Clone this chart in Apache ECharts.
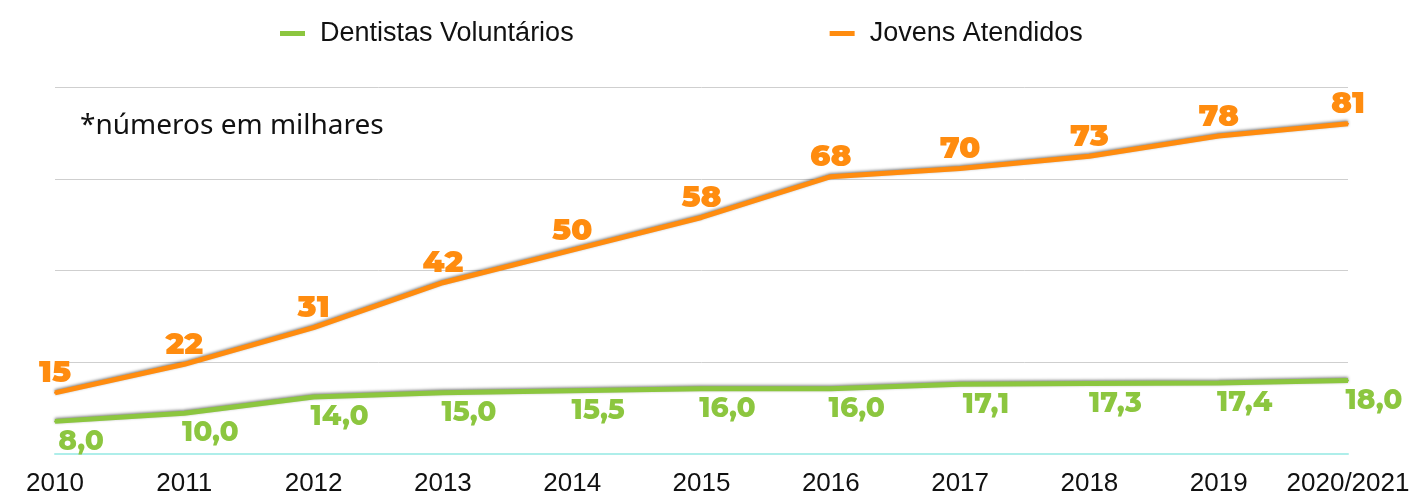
<!DOCTYPE html>
<html>
<head>
<meta charset="utf-8">
<script src="https://cdn.jsdelivr.net/npm/echarts@6/dist/echarts.min.js"></script>
<style>
  html, body { margin: 0; padding: 0; background: #fff; }
  #chart { width: 1415px; height: 497px; }
</style>
</head>
<body>
<div id="chart"></div>
<script>
(function () {

    var years = ['2010', '2011', '2012', '2013', '2014', '2015', '2016', '2017', '2018', '2019', '2020/2021'];
    var dentistas = [8.0, 10.0, 14.0, 15.0, 15.5, 16.0, 16.0, 17.1, 17.3, 17.4, 18.0];
    var jovens = [15, 22, 31, 42, 50, 58, 68, 70, 73, 78, 81];

    var green = '#8cc63f';
    var orange = '#ff8c0f';
    var labelFont = 'Montserrat, "Noto Sans", sans-serif';

    var option = {
        animation: false,
        legend: {
            top: 15,
            left: 275,
            itemGap: 256,
            itemWidth: 25,
            itemHeight: 5,
            icon: 'rect',
            textStyle: {
                fontFamily: '"Liberation Sans", Arial, sans-serif',
                fontSize: 27,
                color: '#111',
                padding: [0, 0, 0, 10]
            },
            data: ['Dentistas Voluntários', 'Jovens Atendidos']
        },
        graphic: [{
            type: 'text',
            left: 80,
            top: 112,
            style: {
                text: '*números em milhares',
                font: '28px "Noto Sans", sans-serif',
                fill: '#111'
            }
        }],
        grid: {
            left: 55,
            right: 67,
            top: 87,
            bottom: 43
        },
        xAxis: {
            type: 'category',
            data: years,
            boundaryGap: false,
            axisTick: { show: false },
            axisLine: { lineStyle: { color: '#aeeeea', width: 2 } },
            axisLabel: {
                interval: 0,
                color: '#111',
                fontSize: 26,
                fontFamily: '"Liberation Sans", Arial, sans-serif',
                margin: 17
            }
        },
        yAxis: {
            type: 'value',
            min: 0,
            max: 90,
            interval: 22.5,
            axisLabel: { show: false },
            axisLine: { show: false },
            axisTick: { show: false },
            splitLine: { lineStyle: { color: '#cfcfcf', width: 1 } }
        },
        series: [
            {
                name: 'Dentistas Voluntários',
                type: 'line',
                data: dentistas,
                color: green,
                symbol: 'circle',
                symbolSize: 2,
                showSymbol: true,
                itemStyle: { color: green },
                lineStyle: {
                    width: 5,
                    color: green,
                    shadowColor: 'rgba(0,0,0,0.5)',
                    shadowBlur: 3,
                    shadowOffsetY: -1
                },
                label: {
                    show: true,
                    position: 'bottom',
                    distance: 5,
                    offset: [26, 0],
                    color: green,
                    fontSize: 28,
                    fontWeight: 800,
                    fontFamily: labelFont,
                    formatter: function (p) {
                        return p.value.toFixed(1).replace('.', ',');
                    }
                }
            },
            {
                name: 'Jovens Atendidos',
                type: 'line',
                data: jovens,
                color: orange,
                symbol: 'circle',
                symbolSize: 2,
                showSymbol: true,
                itemStyle: { color: orange },
                lineStyle: {
                    width: 5,
                    color: orange,
                    shadowColor: 'rgba(0,0,0,0.5)',
                    shadowBlur: 3,
                    shadowOffsetY: -1
                },
                label: {
                    show: true,
                    position: 'top',
                    distance: 3,
                    color: orange,
                    fontSize: 31,
                    fontWeight: 900,
                    fontFamily: labelFont
                }
            }
        ]
    };

    var myChart = echarts.init(document.getElementById('chart'));
    myChart.setOption(option);

})();
</script>
</body>
</html>
